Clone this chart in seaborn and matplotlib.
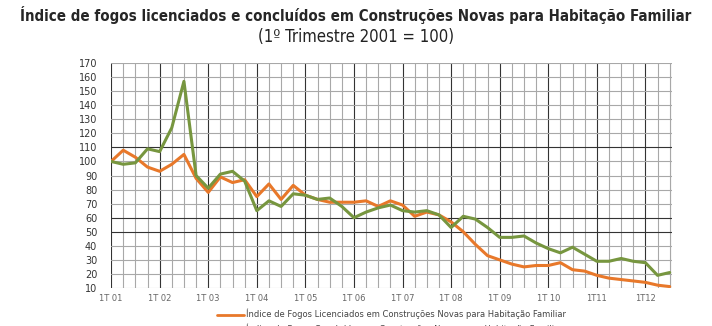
import matplotlib
matplotlib.use("Agg")
import matplotlib.pyplot as plt
import seaborn as sns
import pandas as pd
import numpy as np

# quarterly index values, 1T01 .. 3T12 (1st quarter 2001 = 100)
licenciados = [100, 108, 103, 96, 93, 98, 105, 88, 78,
               89, 85, 87, 75, 84, 73, 83, 76, 73, 71,
               71, 71, 72, 68, 72, 69, 61, 64, 62,
               57, 50, 41, 33, 30, 27, 25, 26, 26,
               28, 23, 22, 19, 17, 16, 15, 14, 12, 11]
concluidos = [100, 98, 99, 109, 107, 124, 157, 90, 81,
              91, 93, 86, 65, 72, 68, 77, 76, 73, 74,
              68, 60, 64, 67, 69, 65, 64, 65, 62,
              53, 61, 59, 53, 46, 46, 47, 42, 38,
              35, 39, 34, 29, 29, 31, 29, 28, 19, 21]
year_labels = ["1T 01", "1T 02", "1T 03", "1T 04", "1T 05", "1T 06",
               "1T 07", "1T 08", "1T 09", "1T 10", "1T11", "1T12"]
serie_lic = "Índice de Fogos Licenciados em Construções Novas para Habitação Familiar"
serie_con = "Índice de Fogos Concluídos em Construções Novas para Habitação Familiar"

df = pd.DataFrame({
    "trimestre": list(range(len(licenciados))) * 2,
    "valor": licenciados + concluidos,
    "serie": [serie_lic] * len(licenciados) + [serie_con] * len(concluidos),
})

sns.set_style("white")
plt.rcParams['font.family'] = ['DejaVu Sans']

fig = plt.figure(figsize=(7.12, 3.26), dpi=100)
ax = fig.add_axes([0.156, 0.1166, 0.788, 0.690])

sns.lineplot(data=df, x="trimestre", y="valor", hue="serie",
             palette={serie_lic: "#E8782A", serie_con: "#77963F"},
             linewidth=2.2, ax=ax, legend=False, zorder=3)

n_q = len(licenciados)
ax.set_xlim(0, n_q - 0.8)
ax.set_ylim(10, 170)

# grid: quarters and years
for q in range(n_q):
    col = "#333333" if q % 4 == 0 else "#a8a8a8"
    ax.axvline(q, color=col, linewidth=0.8, zorder=1)
ax.axvline(n_q - 0.8, color="#a8a8a8", linewidth=0.8, zorder=1)
for v in range(10, 171, 10):
    col = "#333333" if v in (50, 60, 110) else "#a8a8a8"
    ax.axhline(v, color=col, linewidth=0.8, zorder=1)

ax.set_xticks(range(n_q), minor=True)
ax.set_xticks(range(0, n_q, 4))
ax.set_xticklabels(year_labels)
ax.set_yticks(range(10, 171, 10))
ax.tick_params(axis="x", which="both", length=3, color="#333333", labelsize=6,
               labelcolor="#666666", pad=1)
ax.tick_params(axis="y", length=0, labelsize=7, labelcolor="#333333", pad=10)
ax.set_xlabel("")
ax.set_ylabel("")
for s in ax.spines.values():
    s.set_visible(False)

fig.text(0.5, 0.955, "Índice de fogos licenciados e concluídos em Construções Novas para Habitação Familiar",
         ha="center", va="center", fontsize=10.8, fontweight="bold", fontstretch="condensed")
fig.text(0.5, 0.888, "(1º Trimestre 2001 = 100)", ha="center", va="center",
         fontsize=12, fontstretch="condensed", color="#222222")

handles = [plt.Line2D([], [], color="#E8782A", linewidth=2),
           plt.Line2D([], [], color="#77963F", linewidth=2)]
fig.legend(handles, [serie_lic, serie_con], loc="upper center",
           bbox_to_anchor=(0.55, 0.065), frameon=False, fontsize=6,
           labelcolor="#444444", handlelength=3.2, handletextpad=0.3,
           labelspacing=0.5, borderpad=0)

fig.savefig("out.png", dpi=100)
